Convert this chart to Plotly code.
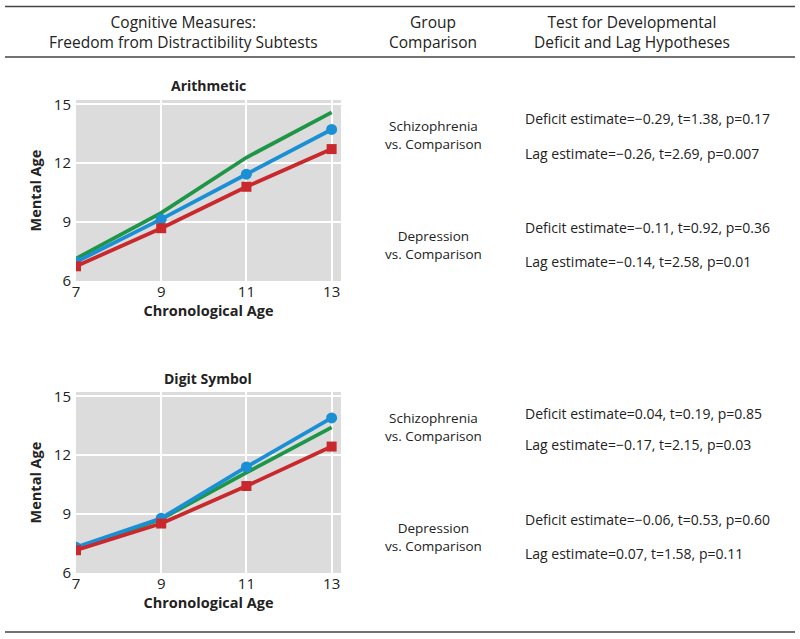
import plotly.graph_objects as go

ages = [7, 9, 11, 13]
y_ticks = [6, 9, 12, 15]

arith_comparison = [7.14, 9.47, 12.29, 14.59]
arith_schizophrenia = [6.75, 8.69, 10.80, 12.72]
arith_depression = [6.97, 9.15, 11.44, 13.72]

digit_comparison = [7.20, 8.75, 11.11, 13.42]
digit_schizophrenia = [7.16, 8.52, 10.43, 12.44]
digit_depression = [7.31, 8.79, 11.40, 13.90]

panel_titles = ["Arithmetic", "Digit Symbol"]

header_cols = [
    "Cognitive Measures:<br>Freedom from Distractibility Subtests",
    "Group<br>Comparison",
    "Test for Developmental<br>Deficit and Lag Hypotheses",
]
groups = ["Schizophrenia<br>vs. Comparison", "Depression<br>vs. Comparison"]
stats_arith = [
    ("Deficit estimate=\u22120.29, t=1.38, p=0.17", "Lag estimate=\u22120.26, t=2.69, p=0.007"),
    ("Deficit estimate=\u22120.11, t=0.92, p=0.36", "Lag estimate=\u22120.14, t=2.58, p=0.01"),
]
stats_digit = [
    ("Deficit estimate=0.04, t=0.19, p=0.85", "Lag estimate=\u22120.17, t=2.15, p=0.03"),
    ("Deficit estimate=\u22120.06, t=0.53, p=0.60", "Lag estimate=0.07, t=1.58, p=0.11"),
]

GREEN = "#1e9547"
BLUE = "#1b8fd4"
RED = "#c9282d"
FONT = "Open Sans"
TXT = "#222"
W, H = 800, 639

def py(pix):
    return 1 - pix / H

fig = go.Figure()

panels = [
    (arith_comparison, arith_depression, arith_schizophrenia, "x", "y"),
    (digit_comparison, digit_depression, digit_schizophrenia, "x2", "y2"),
]
for comp, dep, sch, xa, ya in panels:
    fig.add_trace(go.Scatter(x=ages, y=comp, mode="lines", line=dict(color=GREEN, width=3.8),
                             xaxis=xa, yaxis=ya, showlegend=False))
    fig.add_trace(go.Scatter(x=ages, y=dep, mode="lines+markers", line=dict(color=BLUE, width=3.8),
                             marker=dict(symbol="circle", size=11, color=BLUE),
                             xaxis=xa, yaxis=ya, showlegend=False))
    fig.add_trace(go.Scatter(x=ages, y=sch, mode="lines+markers", line=dict(color=RED, width=3.8),
                             marker=dict(symbol="square", size=10, color=RED),
                             xaxis=xa, yaxis=ya, showlegend=False))

xdom = [76 / W, 341 / W]
ax_common = dict(showgrid=True, gridcolor="white", gridwidth=1.5, zeroline=False, automargin=False,
                 showline=False, ticks="", tickfont=dict(family=FONT, size=15, color=TXT))
xax = dict(ax_common, range=[7, 13.22], tickvals=ages, domain=xdom,
           title=dict(text="<b>Chronological Age</b>", font=dict(family=FONT, size=14.5, color=TXT), standoff=2))
yax = dict(ax_common, range=[6, 15.22], tickvals=y_ticks, ticklabelstandoff=4,
           title=dict(text="<b>Mental Age</b>", font=dict(family=FONT, size=14.5, color=TXT), standoff=8))

fig.update_layout(
    width=W, height=H, margin=dict(l=0, r=0, t=0, b=0),
    paper_bgcolor="white", plot_bgcolor="#dcdcdc",
    xaxis=dict(xax, anchor="y"),
    yaxis=dict(yax, domain=[py(281), py(100)], anchor="x"),
    xaxis2=dict(xax, anchor="y2"),
    yaxis2=dict(yax, domain=[py(573), py(392)], anchor="x2"),
    font=dict(family=FONT, color=TXT),
)

# horizontal rules of the table
for yy in [6.5, 57, 632]:
    fig.add_shape(type="line", xref="paper", yref="paper", x0=5 / W, x1=795 / W,
                  y0=py(yy), y1=py(yy), line=dict(color="#444", width=1.6), layer="above")

ann = []
# headers
for txt, cx in zip(header_cols, [183, 433, 632]):
    ann.append(dict(text=txt, x=cx / W, y=py(32), xanchor="center", yanchor="middle",
                    font=dict(size=15.5, family=FONT, color=TXT)))
# panel titles
for t, yy in zip(panel_titles, [86, 378]):
    ann.append(dict(text="<b>" + t + "</b>", x=208 / W, y=py(yy), xanchor="center", yanchor="middle",
                    font=dict(size=14, family=FONT, color=TXT)))
# group labels and stats
blocks = [
    (stats_arith, [135, 245], [(118, 153), (227, 262)]),
    (stats_digit, [427, 537], [(413, 445), (519, 553)]),
]
for stats, gy, sy in blocks:
    for g, gyy, (d, l), (sd, sl) in zip(groups, gy, stats, sy):
        ann.append(dict(text=g, x=433 / W, y=py(gyy), xanchor="center", yanchor="middle",
                        font=dict(size=13.5, family=FONT, color=TXT)))
        ann.append(dict(text=d, x=523 / W, y=py(sd), xanchor="left", yanchor="middle",
                        font=dict(size=14, family=FONT, color=TXT)))
        ann.append(dict(text=l, x=523 / W, y=py(sl), xanchor="left", yanchor="middle",
                        font=dict(size=14, family=FONT, color=TXT)))
for a in ann:
    a.update(xref="paper", yref="paper", showarrow=False)
fig.update_layout(annotations=ann)

fig.write_html("out.html", config={"displayModeBar": False},
               post_script="document.body.style.margin='0';document.body.style.overflow='hidden';")
